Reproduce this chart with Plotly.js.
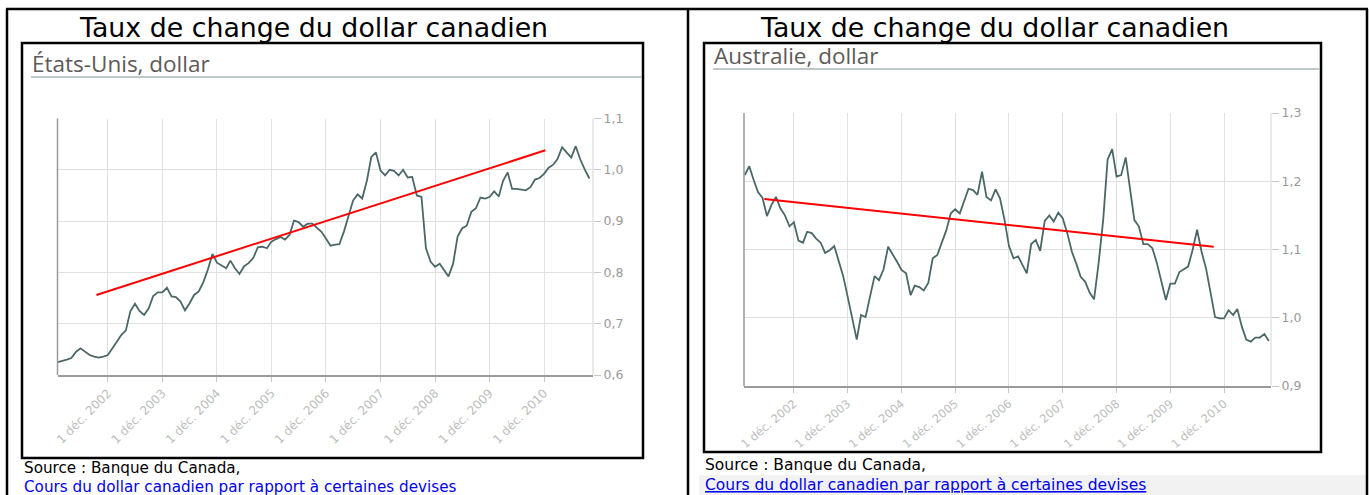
<!DOCTYPE html>
<html><head><meta charset="utf-8">
<script src="https://cdn.plot.ly/plotly-3.0.1.min.js"></script>
<style>html,body{margin:0;padding:0;background:#fff;overflow:hidden}#chart{width:1369px;height:495px}</style>
</head><body><div id="chart"></div>
<script>
// ---------- DATA ----------
const firstYear = 2002;
// Canadian dollar in US dollars, monthly, Jan 2002 - Oct 2011
const usdValues = [
  0.625,0.627,0.630,0.633,0.645,0.652,0.645,0.639,0.636,0.634,0.636,0.639,
  0.652,0.665,0.678,0.687,0.724,0.739,0.725,0.717,0.730,0.754,0.761,0.761,
  0.770,0.753,0.752,0.743,0.726,0.740,0.756,0.763,0.781,0.805,0.836,0.819,
  0.813,0.808,0.823,0.808,0.797,0.812,0.818,0.828,0.849,0.850,0.847,0.860,
  0.865,0.869,0.864,0.873,0.901,0.898,0.889,0.895,0.895,0.888,0.879,0.866,
  0.852,0.854,0.855,0.880,0.912,0.940,0.952,0.944,0.978,1.025,1.034,0.999,
  0.989,1.000,0.998,0.989,1.000,0.985,0.986,0.950,0.947,0.847,0.821,0.811,
  0.817,0.805,0.792,0.817,0.870,0.886,0.891,0.918,0.925,0.946,0.944,0.947,
  0.958,0.948,0.978,0.995,0.963,0.963,0.961,0.960,0.966,0.981,0.984,0.992,
  1.004,1.010,1.021,1.044,1.034,1.024,1.046,1.020,1.000,0.983
];
// Canadian dollar in Australian dollars, monthly, Jan 2002 - Oct 2011
const audValues = [
  1.209,1.222,1.203,1.184,1.176,1.149,1.165,1.177,1.160,1.150,1.134,1.140,
  1.113,1.110,1.126,1.124,1.116,1.110,1.095,1.099,1.105,1.084,1.061,1.031,
  0.997,0.968,1.004,1.001,1.031,1.061,1.055,1.071,1.104,1.094,1.082,1.070,
  1.065,1.033,1.047,1.045,1.040,1.051,1.087,1.092,1.111,1.128,1.153,1.159,
  1.153,1.172,1.189,1.187,1.180,1.214,1.177,1.172,1.188,1.175,1.143,1.105,
  1.087,1.090,1.079,1.065,1.108,1.114,1.098,1.142,1.150,1.141,1.154,1.146,
  1.124,1.097,1.080,1.060,1.053,1.037,1.027,1.080,1.143,1.232,1.247,1.207,
  1.209,1.235,1.191,1.143,1.134,1.108,1.108,1.102,1.080,1.055,1.026,1.050,
  1.050,1.067,1.071,1.075,1.099,1.129,1.097,1.072,1.036,1.001,0.999,0.999,
  1.011,1.004,1.013,0.987,0.968,0.965,0.971,0.971,0.976,0.966
];
const usdTrendDates = ['2002-09-16','2010-12-10'];
const usdTrendValues = [0.756, 1.038];
const audTrendDates = ['2002-05-14','2010-09-22'];
const audTrendValues = [1.174, 1.104];

const xTickDates = ['2002-12-01','2003-12-01','2004-12-01','2005-12-01','2006-12-01','2007-12-01','2008-12-01','2009-12-01','2010-12-01'];
const xTickLabels = ['1 déc. 2002','1 déc. 2003','1 déc. 2004','1 déc. 2005','1 déc. 2006','1 déc. 2007','1 déc. 2008','1 déc. 2009','1 déc. 2010'];
const usdTickVals = [0.6,0.7,0.8,0.9,1.0,1.1];
const usdTickText = ['0,6','0,7','0,8','0,9','1,0','1,1'];
const audTickVals = [0.9,1.0,1.1,1.2,1.3];
const audTickText = ['0,9','1,0','1,1','1,2','1,3'];

const mainTitle = 'Taux de change du dollar canadien';
const usdSubtitle = 'États-Unis, dollar';
const audSubtitle = 'Australie, dollar';
const sourceText = 'Source : Banque du Canada,';
const linkText = 'Cours du dollar canadien par rapport à certaines devises';

function monthDates(n){
  const out = [];
  for (let i = 0; i < n; i++) {
    const y = firstYear + Math.floor(i / 12), m = (i % 12) + 1;
    out.push(y + '-' + (m < 10 ? '0' : '') + m + '-01');
  }
  return out;
}
const usdDates = monthDates(usdValues.length);
const audDates = monthDates(audValues.length);

// ---------- LAYOUT HELPERS ----------
const W = 1369, H = 495;
const px = x => x / W;
const py = y => 1 - y / H;

const lineColor = '#4b6767';
const gridColor = '#e1e1e1';

const traces = [
  {x: usdDates, y: usdValues, xaxis: 'x', yaxis: 'y', type: 'scatter', mode: 'lines',
   line: {color: lineColor, width: 1.8}},
  {x: usdTrendDates, y: usdTrendValues, xaxis: 'x', yaxis: 'y', type: 'scatter', mode: 'lines',
   line: {color: '#ff0000', width: 2}},
  {x: audDates, y: audValues, xaxis: 'x2', yaxis: 'y2', type: 'scatter', mode: 'lines',
   line: {color: lineColor, width: 1.8}},
  {x: audTrendDates, y: audTrendValues, xaxis: 'x2', yaxis: 'y2', type: 'scatter', mode: 'lines',
   line: {color: '#ff0000', width: 2}}
];

function xAxis(domain, range, anchor, angle, size){
  return {type: 'date', domain: domain, range: range, anchor: anchor,
    tickmode: 'array', tickvals: xTickDates, ticktext: xTickLabels, tickangle: angle,
    tickfont: {family: 'DejaVu Sans', size: size, color: '#bdbdbd'},
    showgrid: true, gridcolor: gridColor, gridwidth: 1,
    showline: true, linecolor: '#9a9a9a', linewidth: 1.5,
    ticks: 'outside', ticklen: 5, tickcolor: '#c8c8c8', zeroline: false, fixedrange: true};
}
function yAxis(domain, range, vals, text, anchor){
  return {domain: domain, range: range, anchor: anchor, side: 'right',
    tickmode: 'array', tickvals: vals, ticktext: text,
    tickfont: {family: 'DejaVu Sans', size: 12.5, color: '#9a9a9a'},
    showgrid: true, gridcolor: gridColor, gridwidth: 1,
    showline: false, ticks: 'outside', ticklen: 7, tickcolor: '#c8c8c8',
    zeroline: false, fixedrange: true};
}

const black = '#000000';
const shapes = [
  // outer table frame
  {type: 'line', xref: 'paper', yref: 'paper', x0: px(6), x1: px(1368), y0: py(9), y1: py(9), line: {color: black, width: 2.5}},
  {type: 'line', xref: 'paper', yref: 'paper', x0: px(7), x1: px(7), y0: py(9), y1: py(495), line: {color: black, width: 2.5}},
  {type: 'line', xref: 'paper', yref: 'paper', x0: px(688), x1: px(688), y0: py(9), y1: py(495), line: {color: black, width: 2.5}},
  {type: 'line', xref: 'paper', yref: 'paper', x0: px(1367), x1: px(1367), y0: py(9), y1: py(495), line: {color: black, width: 2.5}},
  // grey band behind right link
  {type: 'rect', xref: 'paper', yref: 'paper', x0: px(699), x1: px(1366), y0: py(475), y1: py(495), fillcolor: '#f2f2f2', line: {width: 0}, layer: 'below'},
  // inner chart boxes
  {type: 'rect', xref: 'paper', yref: 'paper', x0: px(22), x1: px(643), y0: py(43), y1: py(458), line: {color: black, width: 2.5}},
  {type: 'rect', xref: 'paper', yref: 'paper', x0: px(704), x1: px(1321), y0: py(43), y1: py(452), line: {color: black, width: 2.5}},
  // subtitle rules
  {type: 'line', xref: 'paper', yref: 'paper', x0: px(31), x1: px(642), y0: py(77), y1: py(77), line: {color: '#a9b6b6', width: 1.3}},
  {type: 'line', xref: 'paper', yref: 'paper', x0: px(713), x1: px(1320), y0: py(69), y1: py(69), line: {color: '#a9b6b6', width: 1.3}},
  // left axis lines and right plot edges
  {type: 'line', xref: 'x domain', yref: 'y domain', x0: 0, x1: 0, y0: 0, y1: 1, line: {color: '#9a9a9a', width: 1.5}},
  {type: 'line', xref: 'x domain', yref: 'y domain', x0: 1, x1: 1, y0: 0, y1: 1, line: {color: '#d6d6d6', width: 1}},
  {type: 'line', xref: 'x2 domain', yref: 'y2 domain', x0: 0, x1: 0, y0: 0, y1: 1, line: {color: '#9a9a9a', width: 1.5}},
  {type: 'line', xref: 'x2 domain', yref: 'y2 domain', x0: 1, x1: 1, y0: 0, y1: 1, line: {color: '#d6d6d6', width: 1}}
];

function note(text, x, y, size, color, family){
  return {text: text, xref: 'paper', yref: 'paper', x: px(x), y: py(y), xanchor: 'left', yanchor: 'middle',
    showarrow: false, font: {family: family, size: size, color: color}};
}
const annotations = [
  note(mainTitle, 77, 27, 26.8, '#000', 'DejaVu Sans'),
  note(mainTitle, 758, 27, 26.8, '#000', 'DejaVu Sans'),
  note(usdSubtitle, 30, 64, 22.5, '#5e5a58', 'Open Sans'),
  note(audSubtitle, 712, 55, 22.5, '#5e5a58', 'Open Sans'),
  note(sourceText, 22, 468, 15.2, '#000', 'DejaVu Sans'),
  note(linkText, 22, 486.5, 15.2, '#0000ee', 'DejaVu Sans'),
  note(sourceText, 703, 465, 15.5, '#000', 'DejaVu Sans'),
  note('<span style="text-decoration:underline">' + linkText + '</span>', 703, 485, 15.5, '#0000ee', 'DejaVu Sans')
];

const layout = {
  width: W, height: H, margin: {l: 0, r: 0, t: 0, b: 0},
  paper_bgcolor: '#ffffff', plot_bgcolor: 'rgba(0,0,0,0)', showlegend: false,
  xaxis: xAxis([px(57.5), px(593)], ['2001-12-29', '2011-10-25'], 'y', -45, 12),
  yaxis: yAxis([py(375), py(118.5)], [0.6, 1.1], usdTickVals, usdTickText, 'x'),
  xaxis2: xAxis([px(744), px(1271)], ['2001-12-27', '2011-10-16'], 'y2', -40, 11.5),
  yaxis2: yAxis([py(386), py(113)], [0.9, 1.3], audTickVals, audTickText, 'x2'),
  shapes: shapes, annotations: annotations
};

Plotly.newPlot('chart', traces, layout, {staticPlot: true, displayModeBar: false});
</script>
</body></html>
